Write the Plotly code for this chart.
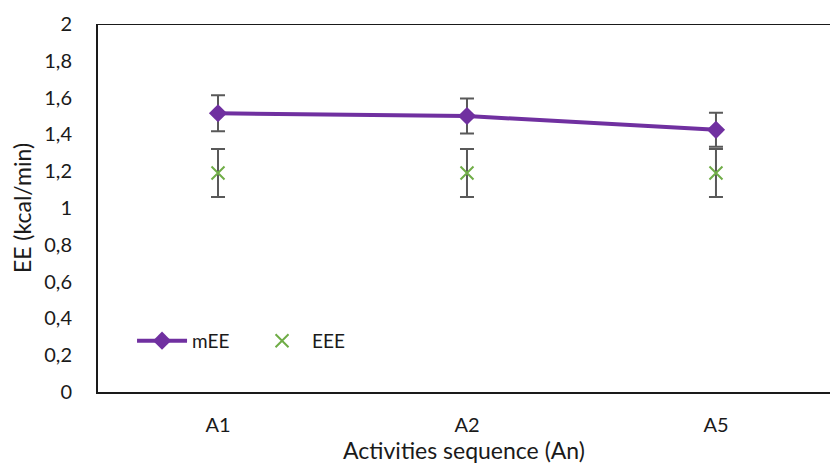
import plotly.graph_objects as go

categories = ["A1", "A2", "A5"]
mEE = [1.515, 1.500, 1.425]
mEE_err = [0.098, 0.095, 0.092]
EEE = [1.19, 1.19, 1.19]
EEE_err = [0.13, 0.13, 0.13]
y_ticks = [0, 0.2, 0.4, 0.6, 0.8, 1, 1.2, 1.4, 1.6, 1.8, 2]

font_family = "Lato, Open Sans, sans-serif"
axis_color = "#1a1a1a"

fig = go.Figure()
fig.add_trace(go.Scatter(
    x=categories, y=EEE, name="EEE", mode="markers",
    marker=dict(symbol="x-thin", size=13, line=dict(color="#70AD47", width=2), color="#70AD47"),
    error_y=dict(type="data", array=EEE_err, visible=True, color="#595959", thickness=2, width=7),
))
fig.add_trace(go.Scatter(
    x=categories, y=mEE, name="mEE", mode="lines+markers",
    line=dict(color="#7030A0", width=4),
    marker=dict(symbol="diamond", size=14, color="#7030A0"),
    error_y=dict(type="data", array=mEE_err, visible=True, color="#595959", thickness=2, width=7),
))

fig.add_shape(type="line", xref="paper", yref="y", x0=0, x1=1, y0=2, y1=2,
              line=dict(color=axis_color, width=2), layer="above")

fig.update_layout(
    width=830, height=465,
    margin=dict(l=98, r=0, t=24, b=73),
    paper_bgcolor="white", plot_bgcolor="white",
    separators=", ",
    font=dict(family=font_family, size=20, color="#1a1a1a"),
    showlegend=True,
    legend=dict(orientation="h", x=0.0465, y=0.139, xanchor="left", yanchor="middle",
                traceorder="reversed", font=dict(size=19), bgcolor="rgba(0,0,0,0)",
                itemwidth=50, entrywidth=55),
    xaxis=dict(
        type="category", range=[-0.482, 2.458],
        showline=True, linecolor=axis_color, linewidth=2, mirror=False,
        showgrid=False, ticks="", ticklen=0, ticklabelstandoff=14,
        title=dict(text="Activities sequence (An)", font=dict(size=23), standoff=8),
    ),
    yaxis=dict(
        range=[0, 2], tickvals=y_ticks,
        showline=True, linecolor=axis_color, linewidth=2,
        showgrid=False, zeroline=False, ticks="", ticklabelstandoff=20,
        title=dict(text="EE (kcal/min)", font=dict(size=23), standoff=6),
    ),
)

fig.write_html("out.html", config={"displayModeBar": False},
               post_script="document.body.style.margin='0';document.body.style.overflow='hidden';")
